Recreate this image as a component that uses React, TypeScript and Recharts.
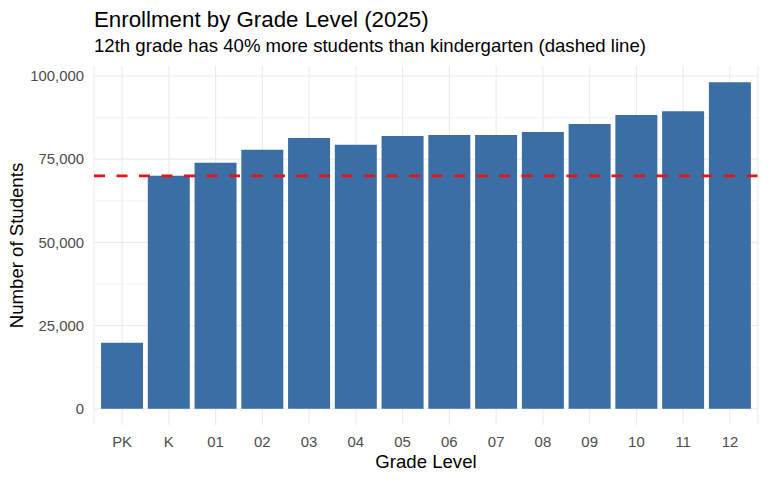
import React from "react";
import { BarChart, Bar, XAxis, YAxis, CartesianGrid, ReferenceLine } from "recharts";

const grades = ["PK", "K", "01", "02", "03", "04", "05", "06", "07", "08", "09", "10", "11", "12"];
const students = [19800, 70000, 73900, 77800, 81400, 79300, 82000, 82300, 82300, 83200, 85600, 88300, 89400, 98100];
const yTicks = [0, 25000, 50000, 75000, 100000];
const minorTicks = [12500, 37500, 62500, 87500];

const data = grades.map((g, i) => ({ grade: g, students: students[i] }));
const kValue = students[grades.indexOf("K")];

const FONT = "'Liberation Sans', Arial, Helvetica, sans-serif";
const fmt = (v: number) => v.toLocaleString("en-US");

const App: React.FC = () => {
  return (
    <div style={{ position: "absolute", left: 0, top: 0, width: 768, height: 480, background: "#fff" }}>
      <BarChart
        width={768}
        height={480}
        data={data}
        margin={{ top: 66, right: 10, bottom: 0, left: 0 }}
        barCategoryGap="5%"
      >
        <CartesianGrid stroke="#EBEBEB" strokeWidth={0.55} vertical={false} horizontalValues={minorTicks} />
        <CartesianGrid stroke="#EBEBEB" strokeWidth={1.1} horizontalValues={yTicks} />
        <XAxis
          dataKey="grade"
          axisLine={false}
          tickLine={false}
          height={55}
          padding={{ left: 4.7, right: 4.7 }}
          tick={{ fill: "#4D4D4D", fontSize: 14.9, fontFamily: FONT }}
          tickMargin={5}
          label={{ value: "Grade Level", position: "insideBottom", offset: 12, fill: "#000", fontSize: 18.6, fontFamily: FONT }}
        />
        <YAxis
          type="number"
          domain={[-4905, 103005]}
          ticks={yTicks}
          tickFormatter={fmt}
          axisLine={false}
          tickLine={false}
          width={94}
          tickMargin={4}
          tick={{ fill: "#4D4D4D", fontSize: 14.9, fontFamily: FONT }}
          label={{ value: "Number of Students", angle: -90, position: "insideLeft", offset: 16, fill: "#000", fontSize: 18.6, fontFamily: FONT, style: { textAnchor: "middle" } }}
        />
        <Bar dataKey="students" fill="#3A6EA5" isAnimationActive={false} />
        <ReferenceLine y={kValue} stroke="#EE1111" strokeWidth={2.8} strokeDasharray="11 11.5" />
      </BarChart>
      <svg width={768} height={66} style={{ position: "absolute", left: 0, top: 0 }}>
        <text x={94} y={27} fontSize={22.3} fontFamily={FONT} fill="#000">
          Enrollment by Grade Level (2025)
        </text>
        <text x={94} y={52} fontSize={18.6} fontFamily={FONT} fill="#000">
          12th grade has 40% more students than kindergarten (dashed line)
        </text>
      </svg>
    </div>
  );
};

export default App;
